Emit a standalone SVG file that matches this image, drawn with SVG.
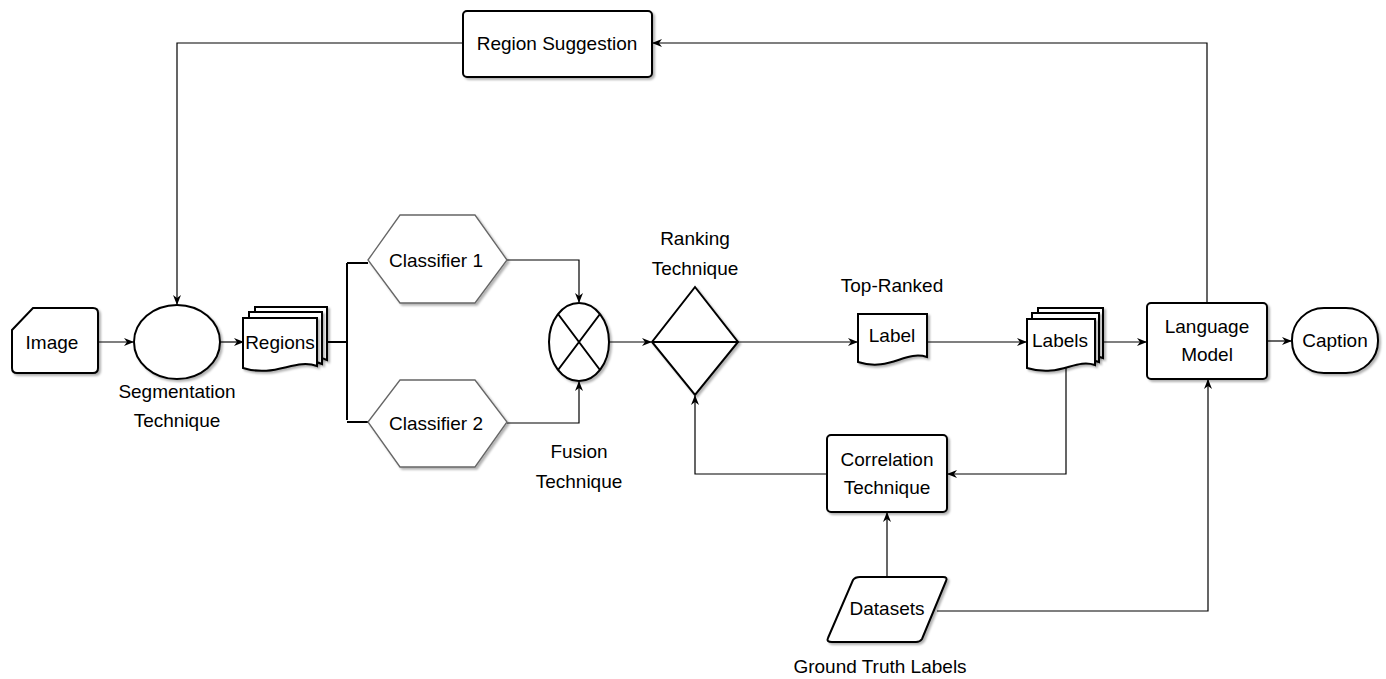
<svg xmlns="http://www.w3.org/2000/svg" width="1386" height="679" viewBox="0 0 1386 679">
<style>
.s{fill:#fff;stroke:#000;stroke-width:2;filter:url(#sh)}
.h{fill:#fff;stroke:#666;stroke-width:1.3;filter:url(#sh)}
.t{font-family:"Liberation Sans",Arial,sans-serif;font-size:19px;fill:#000;text-anchor:middle}
.c{fill:none;stroke:#000;stroke-width:1.2}
.a{marker-end:url(#ar)}
</style>
<defs>
<filter id="sh" x="-10%" y="-10%" width="130%" height="130%"><feDropShadow dx="2" dy="2" stdDeviation="1.2" flood-color="#000" flood-opacity="0.3"/></filter>
<marker id="ar" viewBox="0 0 10 10" refX="9" refY="5" markerWidth="10" markerHeight="10" markerUnits="userSpaceOnUse" orient="auto"><path d="M0,1 L10,5 L0,9 L3,5 Z" fill="#000"/></marker>
</defs>
<g id="connectors">
<path class="c a" d="M98,342 H133"/>
<path class="c a" d="M220,342 H243"/>
<path class="c" d="M327,342 H347 M347,263 V420 M347,263 H368 M347,422 H368" style="stroke-width:2"/>
<path class="c a" d="M507,260 H579 V302"/>
<path class="c a" d="M507,423 H579 V382"/>
<path class="c a" d="M609,342 H651"/>
<path class="c a" d="M738,342 H857"/>
<path class="c a" d="M927,342 H1026"/>
<path class="c a" d="M1103,342 H1146"/>
<path class="c a" d="M1267,341 H1291"/>
<path class="c a" d="M1207,303 V43 H653"/>
<path class="c a" d="M463,43 H177 V304"/>
<path class="c a" d="M1066,366 V474 H948"/>
<path class="c a" d="M827,474 H695 V396"/>
<path class="c a" d="M887,577 V513"/>
<path class="c a" d="M937,611 H1208 V380"/>
</g>
<g id="image"><path class="s" d="M12,330 L33,308 H93 Q98,308 98,313 V368 Q98,373 93,373 H17 Q12,373 12,368 Z"/><text class="t" x="52" y="349">Image</text></g>
<g id="segmentation"><ellipse class="s" cx="177" cy="342" rx="43" ry="37"/><text class="t" x="177" y="398">Segmentation</text><text class="t" x="177" y="427">Technique</text></g>
<g id="regions">
<path class="s" d="M255,307 H327 V360 C310,352 290,360 255,358 Z"/>
<path class="s" d="M249,312 H322 V364 C305,356 285,366 249,362 Z"/>
<path class="s" d="M243,318 H317 V366 C295,358 275,378 243,368 Z"/>
<text class="t" x="280" y="349">Regions</text></g>
<g id="classifier1"><path class="h" d="M368,260 L400,215 H475 L507,260 L475,303 H400 Z"/><text class="t" x="436" y="267">Classifier 1</text></g>
<g id="classifier2"><path class="h" d="M368,422 L400,380 H475 L507,422 L475,467 H400 Z"/><text class="t" x="436" y="430">Classifier 2</text></g>
<g id="fusion"><ellipse class="s" cx="579" cy="342" rx="30" ry="39"/><path d="M558,314 L600,370 M600,314 L558,370" stroke="#000" stroke-width="2"/><text class="t" x="579" y="458">Fusion</text><text class="t" x="579" y="488">Technique</text></g>
<g id="ranking"><path class="s" d="M695,287 L738,342 L695,395 L652,342 Z"/><path d="M652,342 H738" stroke="#000" stroke-width="2"/><text class="t" x="695" y="245">Ranking</text><text class="t" x="695" y="275">Technique</text></g>
<g id="label"><path class="s" d="M858,314 H927 V357 C905,350 890,372 858,362 Z"/><text class="t" x="892" y="342">Label</text><text class="t" x="892" y="292">Top-Ranked</text></g>
<g id="labels">
<path class="s" d="M1038,308 H1103 V358 C1090,352 1070,360 1038,356 Z"/>
<path class="s" d="M1032,313 H1099 V362 C1085,356 1065,366 1032,362 Z"/>
<path class="s" d="M1027,319 H1095 V365 C1075,358 1060,378 1027,368 Z"/>
<text class="t" x="1060" y="347">Labels</text></g>
<g id="language"><rect class="s" x="1147" y="303" width="120" height="76" rx="4"/><text class="t" x="1207" y="333">Language</text><text class="t" x="1207" y="361">Model</text></g>
<g id="caption"><rect class="s" x="1292" y="308" width="86" height="65" rx="32"/><text class="t" x="1335" y="347">Caption</text></g>
<g id="region-suggestion"><rect class="s" x="463" y="11" width="189" height="66" rx="4"/><text class="t" x="557" y="50">Region Suggestion</text></g>
<g id="correlation"><rect class="s" x="827" y="435" width="120" height="77" rx="4"/><text class="t" x="887" y="466">Correlation</text><text class="t" x="887" y="494">Technique</text></g>
<g id="datasets"><path class="s" d="M853,580 Q855,577 860,577 H943 Q948,577 946,581 L922,639 Q920,642 916,642 H832 Q826,642 828,638 Z"/><text class="t" x="887" y="615">Datasets</text><text class="t" x="880" y="673">Ground Truth Labels</text></g>
</svg>
